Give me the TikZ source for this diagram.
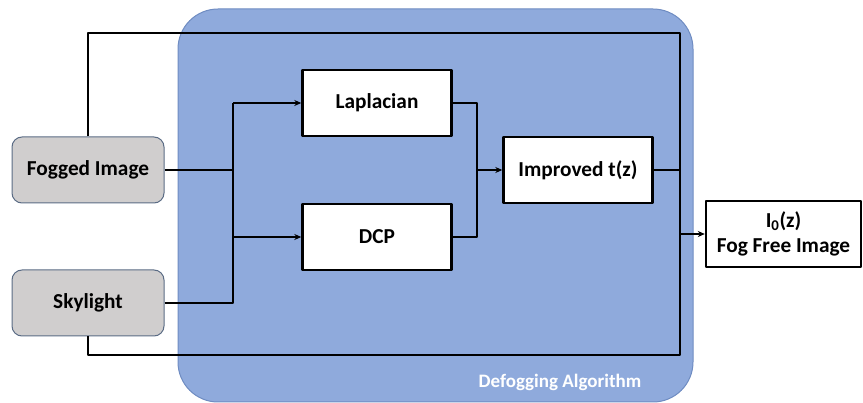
\documentclass[tikz,border=0pt]{standalone}
\usepackage{fontspec}
\setmainfont{Carlito}
\usetikzlibrary{arrows.meta}
\definecolor{algoblue}{HTML}{8FAADC}
\definecolor{algoedge}{HTML}{6F8CC2}
\definecolor{srcgray}{HTML}{D0CECE}
\definecolor{srcedge}{HTML}{5B6C85}
\tikzset{
  srcbox/.style={draw=srcedge, fill=srcgray, line width=1pt, rounded corners=10pt,
    minimum width=152pt, minimum height=66pt},
  blockbox/.style={draw=black, fill=white, line width=2.4pt,
    minimum width=149pt, minimum height=66pt, align=center},
  wire/.style={line width=1.6pt}
}
\begin{document}
\begin{tikzpicture}[x=1pt, y=-1pt, line join=round, >={Stealth[length=7pt,width=6pt]},
  font=\bfseries\fontsize{21.3}{24}\selectfont]
\useasboundingbox (0,0) rectangle (863,403);
\def\busx{233} \def\mergex{477} \def\outx{680}
\def\topy{33} \def\boty{355}
\draw[fill=algoblue, draw=algoedge, line width=1pt, rounded corners=40pt] (178,9) rectangle (693,402);
\node[text=white, font=\bfseries\fontsize{19}{22}\selectfont] (algo) at (560,382) {Defogging Algorithm};
\node[srcbox] (fog) at (88,170) {Fogged Image};
\node[srcbox] (sky) at (88,303) {Skylight};
\node[blockbox] (lap) at (377,103) {Laplacian};
\node[blockbox] (dcp) at (377,237) {DCP};
\node[blockbox] (imp) at (578,170) {Improved t(z)};
\node[blockbox, minimum width=155pt, minimum height=66pt, inner sep=2pt,
  font=\bfseries\fontsize{21.3}{25}\selectfont] (res) at (783.5,234) {I\textsubscript{0}(z)\\Fog Free Image};
\coordinate (bus) at (\busx,0);
\coordinate (merge) at (\mergex,0);
\coordinate (ne) at (\outx,\topy);
\coordinate (se) at (\outx,\boty);
\draw[wire] (fog.east) -- (fog.east -| bus);
\draw[wire] (sky.east) -| (lap.west -| bus);
\draw[wire,->] (lap.west -| bus) -- (lap.west);
\draw[wire,->] (dcp.west -| bus) -- (dcp.west);
\draw[wire] (lap.east) -| (dcp.east -| merge) -- (dcp.east);
\draw[wire,->] (imp.west -| merge) -- (imp.west);
\draw[wire] (fog.north) |- (ne) -- (se) -| (sky.south);
\draw[wire] (imp.east) -- (imp.east -| ne);
\draw[wire,->] (res.west -| ne) -- (res.west);
\end{tikzpicture}
\end{document}
